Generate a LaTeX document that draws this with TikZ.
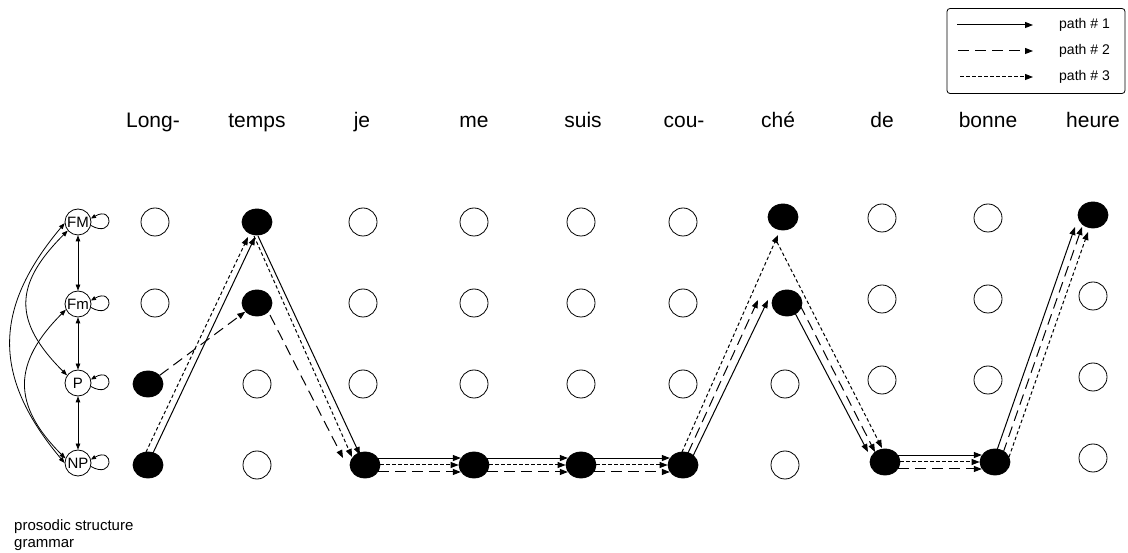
\documentclass[tikz,border=0pt]{standalone}
\usepackage{fontspec}
\setmainfont{Liberation Sans}
\usetikzlibrary{arrows.meta,shapes.geometric}

\begin{document}
\begin{tikzpicture}[x=1pt, y=1pt,
  cell/.style={circle, draw, line width=0.8pt, minimum size=28pt, inner sep=0pt},
  on/.style={ellipse, fill=black, minimum width=30pt, minimum height=26pt},
  on 1-3/.style={on, xshift=-7pt},
  on 1-4/.style={on, xshift=-7pt},
  on 2-1/.style={on},
  on 2-2/.style={on},
  on 3-4/.style={on, xshift=2pt},
  on 4-4/.style={on},
  on 5-4/.style={on},
  on 6-4/.style={on},
  on 7-1/.style={on, xshift=-2pt, yshift=5pt},
  on 7-2/.style={on, xshift=2pt},
  on 8-4/.style={on, xshift=3pt, yshift=-1pt},
  on 9-4/.style={on, xshift=7pt, yshift=-1pt},
  on 10-1/.style={on},
  word/.style={anchor=base, inner sep=0pt, font=\fontsize{21}{25}\selectfont},
  pathline/.style={-{Triangle[length=8pt,width=6pt]}, line width=1pt},
  p1/.style={pathline},
  p2/.style={pathline, dash pattern=on 11pt off 6pt},
  p3/.style={pathline, dash pattern=on 3.5pt off 2.5pt},
  gnode/.style={circle, draw, line width=0.8pt, minimum size=26pt, inner sep=0pt,
    font=\fontsize{15}{18}\selectfont},
  garrow/.style={{Triangle[length=6pt,width=4.5pt]}-{Triangle[length=6pt,width=4.5pt]},
    line width=0.8pt},
  gloop/.style={-{Triangle[length=5pt,width=4pt]}, line width=0.8pt,
    out=-30, in=30, looseness=10}]
  \useasboundingbox (0,0) rectangle (1128,552);

  %% --- legend ---
  \node[draw, rounded corners=3pt, line width=0.8pt, minimum width=178pt,
    minimum height=85pt] (key) at (1036,501) {};
  \node[anchor=west, inner sep=0pt, font=\fontsize{14}{16}\selectfont] (k1) at (1059,527) {path \# 1};
  \node[anchor=west, inner sep=0pt, font=\fontsize{14}{16}\selectfont] (k2) at (1059,501) {path \# 2};
  \node[anchor=west, inner sep=0pt, font=\fontsize{14}{16}\selectfont] (k3) at (1059,475) {path \# 3};
  \draw[p1] ([xshift=-102pt]k1.west) -- ([xshift=-26pt]k1.west);
  \draw[p2] ([xshift=-101pt]k2.west) -- ([xshift=-26pt]k2.west);
  \draw[p3] ([xshift=-99pt]k3.west) -- ([xshift=-26pt]k3.west);

  %% --- words ---
  \foreach \i/\w/\x in {1/Long-/153, 2/temps/257, 3/je/362, 4/me/474, 5/suis/583,
      6/cou-/684, 7/ché/778, 8/de/882, 9/bonne/988, 10/heure/1093} {
    \node[word] (w\i) at (\x,424) {\w};
  }

  %% --- lattice: rows FM, Fm, P, NP ---
  \foreach \c/\x/\dy in {1/155/0, 2/257/0, 3/363/0, 4/474/0, 5/581/0,
      6/683/0, 7/785/0, 8/882/4, 9/988/4, 10/1093/7} {
    \foreach \r/\y in {1/330, 2/249, 3/168, 4/87} {
      \node[cell, on \c-\r/.try] (n\c-\r) at (\x,\y+\dy) {};
    }
  }

  %% Long- -> temps
  \draw[p1] ([shift={(5,12)}]n1-4.center) -- ([shift={(-2,-15)}]n2-1.center);
  \draw[p3] ([shift={(-2,13)}]n1-4.center) -- ([shift={(-9,-15)}]n2-1.center);
  \draw[p2] (n1-3) -- (n2-2);

  %% temps -> je
  \draw[p1] ([shift={(1,-14)}]n2-1.center) -- ([shift={(-5,10)}]n3-4.center);
  \draw[p3] ([shift={(-3,-14)}]n2-1.center) -- ([shift={(-13,8)}]n3-4.center);
  \draw[p2] ([shift={(13,-12)}]n2-2.center) -- ([shift={(-22,7)}]n3-4.center);

  %% along the NP row
  \foreach \a/\b in {3/4, 4/5, 5/6, 8/9} {
    \draw[p1] (n\a-4.28) -- (n\b-4.152);
    \draw[p3] (n\a-4.east) -- (n\b-4.west);
    \draw[p2] (n\a-4.-28) -- (n\b-4.-152);
  }

  %% cou- -> ché
  \draw[p3] ([shift={(-1,13)}]n6-4.center) -- ([shift={(-5,-18)}]n7-1.center);
  \draw[p2] ([shift={(5,12)}]n6-4.center) -- ([shift={(-29,3)}]n7-2.center);
  \draw[p1] ([shift={(10,9)}]n6-4.center) -- ([shift={(-19,3)}]n7-2.center);

  %% ché -> de
  \draw[p1] ([shift={(8,-10)}]n7-2.center) -- ([shift={(-17,10)}]n8-4.center);
  \draw[p2] ([shift={(13,-2)}]n7-2.center) -- ([shift={(-10,10)}]n8-4.center);
  \draw[p3] ([shift={(-6,-25)}]n7-1.center) -- ([shift={(-3,14)}]n8-4.center);

  %% bonne -> heure
  \draw[p1] ([shift={(2,12)}]n9-4.center) -- ([shift={(-18,-12)}]n10-1.center);
  \draw[p2] ([shift={(8,9)}]n9-4.center) -- ([shift={(-11,-12)}]n10-1.center);
  \draw[p3] ([shift={(14,5)}]n9-4.center) -- ([shift={(-5,-17)}]n10-1.center);

  %% --- grammar ---
  \node[gnode] (gFM) at (78,330) {FM};
  \node[gnode] (gFm) at (78,248) {Fm};
  \node[gnode] (gP) at (78,169) {P};
  \node[gnode] (gNP) at (78,89) {NP};
  \foreach \g in {gFM, gFm, gP, gNP} {
    \draw[gloop] (\g.-15) to (\g.15);
  }
  \draw[garrow] (gFM) -- (gFm);
  \draw[garrow] (gFm) -- (gP);
  \draw[garrow] (gP) -- (gNP);
  \draw[garrow] (gFM.185) to[out=230, in=130, looseness=1.2] (gNP.180);
  \draw[garrow] (gFM.220) to[out=225, in=135, looseness=1.35] (gP.145);
  \draw[garrow] (gFm.205) to[out=225, in=135, looseness=1.3] (gNP.160);

  \node[anchor=base west, inner sep=0pt, font=\fontsize{15}{16}\selectfont] (cap1) at (14,21) {prosodic structure};
  \node[anchor=base west, inner sep=0pt, font=\fontsize{15}{16}\selectfont] (cap2) at (14,5) {grammar};
\end{tikzpicture}
\end{document}
